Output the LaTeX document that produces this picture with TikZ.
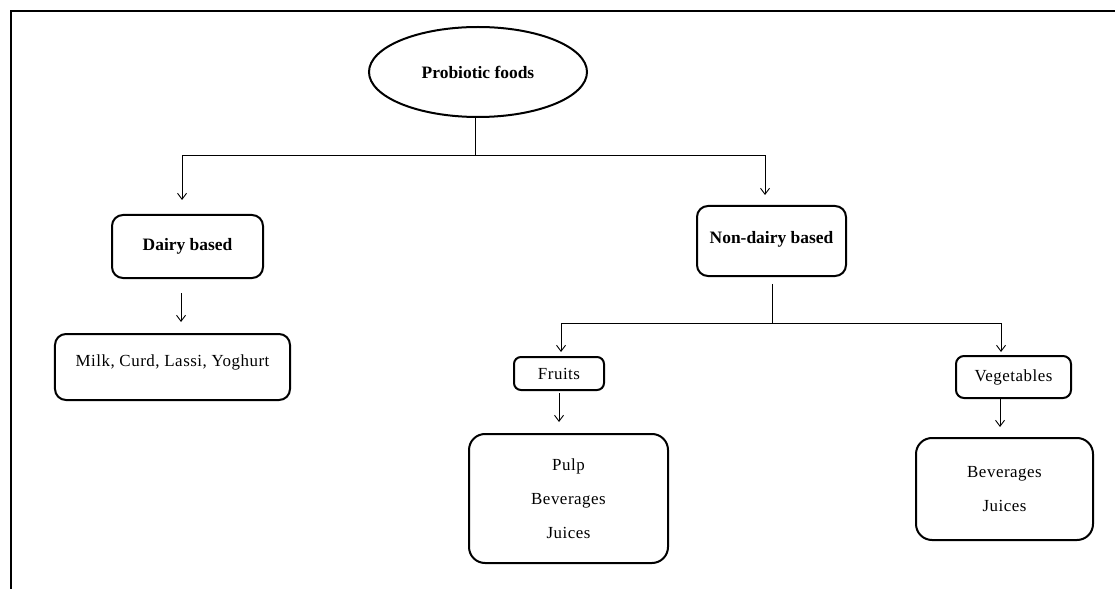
\documentclass[tikz,border=0pt]{standalone}
\usepackage{fontspec}
\setmainfont{Liberation Serif}
\newfontfamily\spacedfont[LetterSpace=3.0]{Liberation Serif}
\usetikzlibrary{shapes.geometric,arrows.meta}
\begin{document}
\begin{tikzpicture}[x=1bp,y=-1bp,
  txt/.style={font=\spacedfont\fontsize{17}{34}\selectfont},
  bld/.style={font=\bfseries\fontsize{17.5}{34}\selectfont},
  rbox/.style={draw,line width=2bp,rounded corners=11bp,inner sep=0pt,align=center},
  conn/.style={line width=0.9bp},
  arr/.style={conn,-{Straight Barb[length=6bp,width=9bp]}},
  frame/.style={line width=2bp}]
\useasboundingbox (0,0) rectangle (1115,589);
% frame
\draw[frame] (1115,11) -- (11,11) -- (11,589);
% nodes
\node[draw,ellipse,line width=2bp,minimum width=218bp,minimum height=90bp,inner sep=0pt,bld] (pf) at (478,72) {Probiotic foods};
\node[rbox,bld,minimum width=151bp,minimum height=63bp] (db) at (187.5,246.5) {Dairy based};
\node[rbox,bld,minimum width=149bp,minimum height=70bp,text depth=8bp] (nd) at (771.5,241) {Non-dairy based};
\node[rbox,txt,minimum width=235bp,minimum height=66bp,text depth=12bp] (mk) at (172.5,367) {Milk, Curd, Lassi, Yoghurt};
\node[rbox,txt,minimum width=90bp,minimum height=33bp,rounded corners=7bp] (fr) at (559,373.5) {Fruits};
\node[rbox,txt,minimum width=115bp,minimum height=42bp,rounded corners=8bp] (vg) at (1013.5,377) {Vegetables};
\node[rbox,txt,minimum width=199bp,minimum height=129bp,rounded corners=16bp] (fs) at (568.5,498.5) {Pulp\\Beverages\\Juices};
\node[rbox,txt,minimum width=177bp,minimum height=102bp,rounded corners=16bp] (vs) at (1004.5,489) {Beverages\\Juices};
% junction coordinates
\coordinate (j1) at (475,155);
\coordinate (a1) at (182,200);
\coordinate (a2) at (765,195);
\coordinate (d1) at (181,293);
\coordinate (d2) at (181,322);
\coordinate (n0) at (772,284);
\coordinate (j2) at (772,323);
\coordinate (b1) at (561,352);
\coordinate (b2) at (1001,352);
\coordinate (f1) at (559,393);
\coordinate (f2) at (559,422);
\coordinate (v1) at (1000,398);
\coordinate (v2) at (1000,427);
% connectors
\draw[conn] (pf.south -| j1) -- (j1);
\draw[arr] (j1) -| (a1);
\draw[arr] (j1) -| (a2);
\draw[arr] (d1) -- (d2);
\draw[conn] (n0) -- (j2);
\draw[arr] (j2) -| (b1);
\draw[arr] (j2) -| (b2);
\draw[arr] (f1) -- (f2);
\draw[arr] (v1) -- (v2);
\end{tikzpicture}
\end{document}
